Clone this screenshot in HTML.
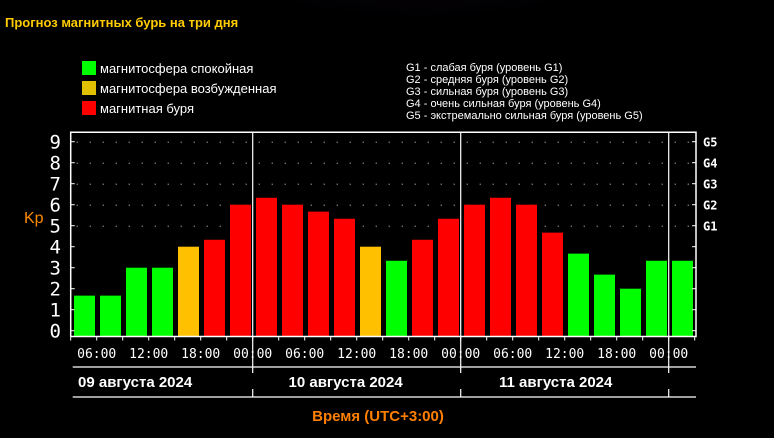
<!DOCTYPE html>
<html><head><meta charset="utf-8"><style>
html,body{margin:0;padding:0;background:#000;}
svg{display:block;font-family:"Liberation Sans","DejaVu Sans",sans-serif;}
</style></head><body>
<svg id="chart" width="774" height="438" viewBox="0 0 774 438" xmlns="http://www.w3.org/2000/svg">
<defs>
<radialGradient id="aur" cx="0.5" cy="0" r="0.6">
<stop offset="0" stop-color="#3a1458" stop-opacity="0.9"/>
<stop offset="1" stop-color="#000" stop-opacity="0"/>
</radialGradient>
</defs>
<rect width="774" height="438" fill="#000"/>
<ellipse cx="420" cy="10" rx="260" ry="100" fill="url(#aur)"/>
<text x="5" y="27" fill="#ffcc00" font-size="13" font-weight="bold">Прогноз магнитных бурь на три дня</text>
<g font-size="13" fill="#fff">
<rect x="82" y="61" width="14" height="14" fill="#00ff00"/>
<text x="100" y="73">магнитосфера спокойная</text>
<rect x="82" y="81" width="14" height="14" fill="#e0c000"/>
<text x="100" y="93">магнитосфера возбужденная</text>
<rect x="82" y="101" width="14" height="14" fill="#ff0000"/>
<text x="100" y="113">магнитная буря</text>
</g>
<g font-size="11" fill="#fff">
<text x="406" y="71">G1 - слабая буря (уровень G1)</text>
<text x="406" y="83">G2 - средняя буря (уровень G2)</text>
<text x="406" y="95">G3 - сильная буря (уровень G3)</text>
<text x="406" y="107">G4 - очень сильная буря (уровень G4)</text>
<text x="406" y="119">G5 - экстремально сильная буря (уровень G5)</text>
</g>
<text x="24" y="223" fill="#ff8c00" font-size="16">Kp</text>
<g id="grid"></g>
<g id="bars"></g>
<g id="axes"></g>
<text x="378" y="421" fill="#ff7f00" font-size="15" font-weight="bold" text-anchor="middle">Время (UTC+3:00)</text>
</svg>
<script>
const kpValues=[1.67,1.67,3,3,4,4.33,6, 6.33,6,5.67,5.33,4,3.33,4.33,5.33, 6,6.33,6,4.67,3.67,2.67,2,3.33, 3.33];
const kpLevels=["green","green","green","green","orange","red","red", "red","red","red","red","orange","green","red","red", "red","red","red","red","green","green","green","green", "green"];
const timeLabels=["06:00","12:00","18:00","00:00","06:00","12:00","18:00","00:00","06:00","12:00","18:00","00:00"];
const dayLabels=["09 августа 2024","10 августа 2024","11 августа 2024"];
const yTicks=[0,1,2,3,4,5,6,7,8,9];
const gLabels=["G1","G2","G3","G4","G5"];

const NS="http://www.w3.org/2000/svg";
const X0=70.7, SLOT=26, Y0=330.7, UNIT=21, BASE=336.5, TOP=132.3, RIGHT=696;
const colors={green:"#00ff00",orange:"#ffc000",red:"#ff0000"};
const x=i=>X0+i*SLOT;
const y=v=>Y0-v*UNIT;
function mk(tag,attrs,parent){const e=document.createElementNS(NS,tag);for(const k in attrs)e.setAttribute(k,attrs[k]);parent.appendChild(e);return e;}
const grid=document.getElementById('grid'), bars=document.getElementById('bars'), axes=document.getElementById('axes');

// dotted grid
yTicks.forEach(v=>{ if(v<5) return;
  for(let px=X0+6;px<RIGHT-2;px+=13){
    const d=mk('rect',{x:px,y:y(v),width:1,height:1,fill:'#ddd'},grid);
    
    
  }
});
// bars
kpValues.forEach((v,i)=>{
  const r=mk('rect',{x:x(i)+3.3,y:y(v),width:21,height:BASE-y(v),fill:colors[kpLevels[i]]},bars);
  
  
});
// frame
const frame=mk('path',{d:`M${X0} ${BASE} V${TOP} H${RIGHT} V${BASE} H${X0}`,stroke:'#fff','stroke-width':1.5,fill:'none'},axes);


// day dividers
[7,15,23].forEach(i=>{
  const l=mk('line',{x1:x(i),x2:x(i),y1:TOP,y2:373,stroke:'#fff','stroke-width':1.2},axes);
  
  
  const l2=mk('line',{x1:x(i),x2:x(i),y1:389,y2:397,stroke:'#fff','stroke-width':1.2},axes);
  
  
});
// y ticks & labels
yTicks.forEach(v=>{
  mk('line',{x1:X0,x2:X0+4,y1:y(v),y2:y(v),stroke:'#fff'},axes);
  mk('line',{x1:RIGHT-4,x2:RIGHT,y1:y(v),y2:y(v),stroke:'#fff'},axes);
  const t=mk('text',{x:61,y:y(v)+7,fill:'#fff','font-size':19,'text-anchor':'end','font-family':'"DejaVu Sans Mono","Liberation Mono",monospace'},axes);
  t.textContent=v;
  
  
});
gLabels.forEach((g,k)=>{
  const t=mk('text',{x:703,y:y(k+5)+5,fill:'#fff','font-size':12,'font-weight':'bold','font-family':'"DejaVu Sans Mono",monospace'},axes);
  t.textContent=g;
  
  
});
// x ticks
for(let i=0;i<=kpValues.length;i++){
  mk('line',{x1:x(i),x2:x(i),y1:BASE,y2:BASE+4,stroke:'#fff'},axes);
}
timeLabels.forEach((s,k)=>{
  const t=mk('text',{x:x(1+2*k),y:358,fill:'#fff','font-size':13,'text-anchor':'middle','font-family':'"DejaVu Sans Mono",monospace'},axes);
  t.textContent=s;
  
  
});
// lower lines
[367,397].forEach(yy=>{
  const l=mk('line',{x1:X0+2,x2:RIGHT,y1:yy,y2:yy,stroke:'#fff','stroke-width':1.2},axes);
  
  
});
dayLabels.forEach((s,k)=>{
  const t=mk('text',{x:78+k*210.5,y:387,fill:'#fff','font-size':15,'font-weight':'bold'},axes);
  t.textContent=s;
  
  
});
</script>
</body></html>
